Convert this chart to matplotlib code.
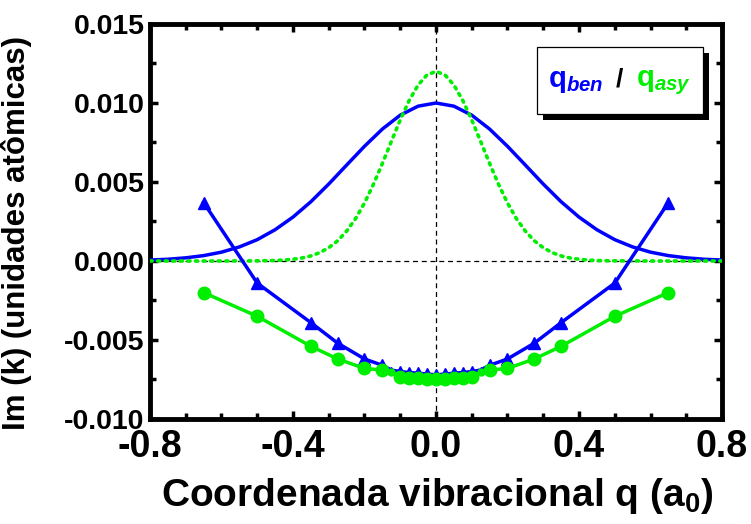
import numpy as np
import matplotlib
matplotlib.use('Agg')
import matplotlib.pyplot as plt
from matplotlib.patches import Rectangle
from matplotlib.ticker import MultipleLocator, FormatStrFormatter

plt.rcParams['font.family'] = ['Liberation Sans', 'DejaVu Sans']
plt.rcParams['font.weight'] = 'bold'
plt.rcParams['mathtext.fontset'] = 'custom'
plt.rcParams['mathtext.rm'] = 'Liberation Sans:bold'
plt.rcParams['mathtext.it'] = 'Liberation Sans:italic:bold'
plt.rcParams['mathtext.bf'] = 'Liberation Sans:bold'

# smooth curves
q_ben_curve = [-0.8, -0.75, -0.7, -0.65, -0.6, -0.55, -0.5, -0.45, -0.4, -0.35, -0.3,
               -0.25, -0.2, -0.15, -0.1, -0.05, 0.0, 0.05, 0.1, 0.15, 0.2, 0.25,
               0.3, 0.35, 0.4, 0.45, 0.5, 0.55, 0.6, 0.65, 0.7, 0.75, 0.8]
im_ben_curve = [0.00006, 0.00011, 0.00020, 0.00034, 0.00056, 0.00089, 0.00135, 0.00198,
                0.00278, 0.00375, 0.00487, 0.00607, 0.00726, 0.00835, 0.00923, 0.00980,
                0.01000, 0.00980, 0.00923, 0.00835, 0.00726, 0.00607, 0.00487, 0.00375,
                0.00278, 0.00198, 0.00135, 0.00089, 0.00056, 0.00034, 0.00020, 0.00011,
                0.00006]

q_asy_curve = [-0.8, -0.7, -0.6, -0.5, -0.45, -0.425, -0.4, -0.375, -0.35, -0.325, -0.3,
               -0.275, -0.25, -0.225, -0.2, -0.175, -0.15, -0.125, -0.1, -0.075, -0.05,
               -0.025, 0.0, 0.025, 0.05, 0.075, 0.1, 0.125, 0.15, 0.175, 0.2, 0.225,
               0.25, 0.275, 0.3, 0.325, 0.35, 0.375, 0.4, 0.425, 0.45, 0.5, 0.6, 0.7, 0.8]
im_asy_curve = [0.0, 0.0, 0.0, 0.00001, 0.00003, 0.00006, 0.00011, 0.00019, 0.00032,
                0.00053, 0.00084, 0.00128, 0.00189, 0.00268, 0.00367, 0.00485, 0.00617,
                0.00756, 0.00893, 0.01016, 0.01114, 0.01178, 0.01200, 0.01178, 0.01114,
                0.01016, 0.00893, 0.00756, 0.00617, 0.00485, 0.00367, 0.00268, 0.00189,
                0.00128, 0.00084, 0.00053, 0.00032, 0.00019, 0.00011, 0.00006, 0.00003,
                0.00001, 0.0, 0.0, 0.0]

# computed points
q_pts = [-0.65, -0.5, -0.35, -0.275, -0.2, -0.15, -0.125, -0.1, -0.075, -0.05, -0.025, 0.0,
         0.025, 0.05, 0.075, 0.1, 0.125, 0.15, 0.2, 0.275, 0.35, 0.5, 0.65]
im_ben_pts = [0.0037, -0.0014, -0.0039, -0.0052, -0.0062, -0.0066, -0.0069, -0.0070,
              -0.00706, -0.0071, -0.00716, -0.0072, -0.00716, -0.0071, -0.00706, -0.0070,
              -0.0069, -0.0066, -0.0062, -0.0052, -0.0039, -0.0014, 0.0037]
im_asy_pts = [-0.0020, -0.0035, -0.0054, -0.0062, -0.0068, -0.0069, -0.00705, -0.00732,
              -0.00738, -0.00742, -0.00746, -0.00748, -0.00746, -0.00742, -0.00738, -0.00732,
              -0.00705, -0.0069, -0.0068, -0.0062, -0.0054, -0.0035, -0.0020]

blue = '#0000ff'
green = '#00ee00'

fig = plt.figure(figsize=(7.51, 5.24), dpi=100)
ax = fig.add_axes([0.1997, 0.2004, 0.7617, 0.7538])

ax.axhline(0, color='black', lw=0.9, ls=(0, (4, 3)), zorder=1)
ax.axvline(0, color='black', lw=0.9, ls=(0, (4, 3)), zorder=1)

ax.plot(q_ben_curve, im_ben_curve, color=blue, lw=2.5, zorder=3)
ax.plot(q_asy_curve, im_asy_curve, color=green, lw=2.6, ls=(0, (0.6, 1.5)),
        dash_capstyle='round', zorder=3)

q_arr = np.array(q_pts)
small = np.isclose(np.abs(q_arr), 0.125)
big_idx = list(np.where(~small)[0])
small_idx = list(np.where(small)[0])

ax.plot(q_pts, im_ben_pts, color=blue, lw=2.5, zorder=4)
ax.plot(q_pts, im_ben_pts, ls='none', marker='^', ms=8.5, color=blue,
        markevery=big_idx, zorder=4)
ax.plot(q_pts, im_ben_pts, ls='none', marker='^', ms=4, color=blue,
        markevery=small_idx, zorder=4)

ax.plot(q_pts, im_asy_pts, color=green, lw=2.5, zorder=5)
ax.plot(q_pts, im_asy_pts, ls='none', marker='o', ms=9, color=green,
        markevery=big_idx, zorder=5)
ax.plot(q_pts, im_asy_pts, ls='none', marker='o', ms=5, color=green,
        markevery=small_idx, zorder=5)

ax.set_xlim(-0.8, 0.8)
ax.set_ylim(-0.010, 0.015)
ax.xaxis.set_major_locator(MultipleLocator(0.4))
ax.xaxis.set_minor_locator(MultipleLocator(0.1))
ax.yaxis.set_major_locator(MultipleLocator(0.005))
ax.yaxis.set_minor_locator(MultipleLocator(0.0025))
ax.xaxis.set_major_formatter(FormatStrFormatter('%.1f'))
ax.yaxis.set_major_formatter(FormatStrFormatter('%.3f'))

ax.tick_params(which='both', direction='in', top=True, right=True, width=2.5)
ax.tick_params(which='major', length=6)
ax.tick_params(which='minor', length=4)
ax.tick_params(axis='x', which='major', labelsize=27, pad=7)
ax.tick_params(axis='y', which='major', labelsize=20.5, pad=4)
for sp in ax.spines.values():
    sp.set_linewidth(3.5)

ax.set_xlabel('Coordenada vibracional q (a$_0$)', fontsize=28, fontweight='bold')
ax.set_ylabel('Im (k) (unidades atômicas)', fontsize=22.5, fontweight='bold')
ax.xaxis.set_label_coords(0.502, -0.145)
ax.yaxis.set_label_coords(-0.206, 0.47)

# legend box with shadow
ax.add_patch(Rectangle((0.6871, 0.7570), 0.2902, 0.1696, transform=ax.transAxes,
                       facecolor='black', edgecolor='black', lw=0, zorder=6))
ax.add_patch(Rectangle((0.6766, 0.7722), 0.2902, 0.1696, transform=ax.transAxes,
                       facecolor='white', edgecolor='black', lw=0.9, zorder=7))
ax.text(0.6958, 0.8413, r'q$_{ben}$', color=blue, fontsize=21, fontweight='bold',
        transform=ax.transAxes, va='baseline', zorder=8)
ax.text(0.8147, 0.8413, '/', color='black', fontsize=19, fontweight='bold',
        transform=ax.transAxes, va='baseline', zorder=8)
ax.text(0.8497, 0.8413, r'q$_{asy}$', color=green, fontsize=21, fontweight='bold',
        transform=ax.transAxes, va='baseline', zorder=8)

fig.savefig('out.png', dpi=100)
